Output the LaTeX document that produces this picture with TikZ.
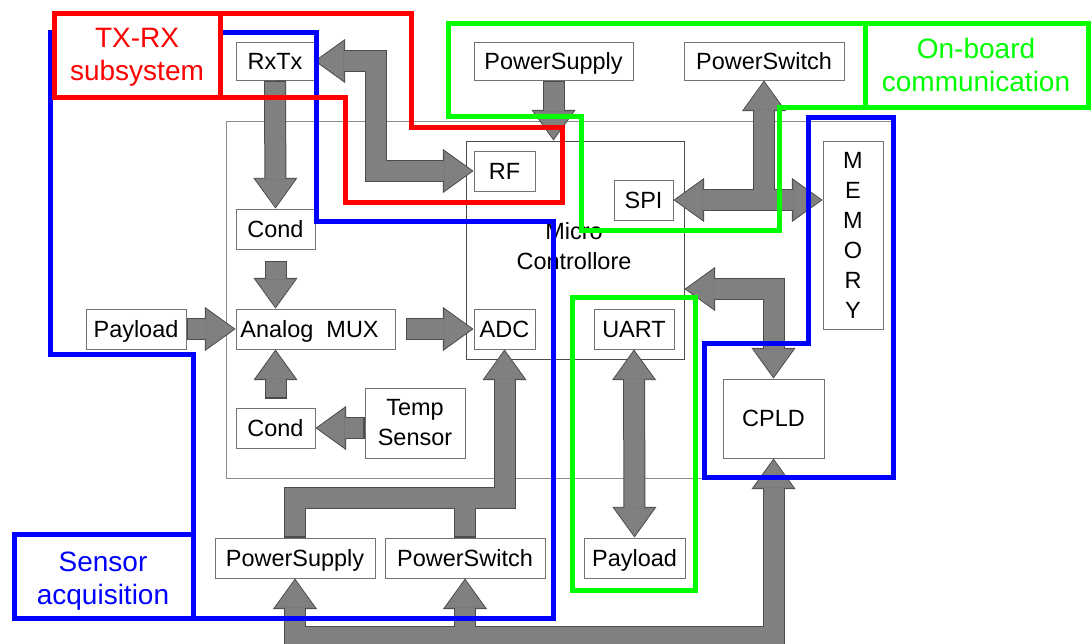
\documentclass[tikz,border=0pt]{standalone}
\usepackage{fontspec}
\setmainfont{Liberation Sans}
\usetikzlibrary{arrows.meta,fit,calc}
\tikzset{
  box/.style={draw=black!55, line width=0.75pt, fill=white, inner sep=0pt,
    font=\fontsize{17.6pt}{22.5pt}\selectfont, align=center, anchor=center},
  capbox/.style={box, text height=12.6pt, text depth=0pt},
  plain/.style={inner sep=0pt, font=\fontsize{17.6pt}{22.5pt}\selectfont, align=center},
  lbl/.style={inner sep=0pt, font=\fontsize{21pt}{25pt}\selectfont, align=center},
  zone/.style={line width=3.75pt, line join=miter},
  baout/.style={line width=16.5pt, draw=black!70, line join=miter,
    >={Triangle[length=23pt,width=33pt,line width=0.6pt,color=black!70,fill=black!70]}},
  bain/.style={line width=15pt, draw=gray, line join=miter, shorten >=1.2pt, shorten <=1.2pt,
    >={Triangle[length=21pt,width=30pt,line width=0.6pt,color=gray,fill=gray]}},
}
\newcommand\arrowsall{%
  \draw[ba,->] (rxtx.south) -- (cond1.north);
  \draw[ba,<->] (rxtx.east) -- ++(61,0) |- (rf.west);
  \draw[ba,->] ($(cond1.south)+(0,11)$) -- (cond1.south |- mux.north);
  \draw[ba,->] (payL.east) -- (mux.west);
  \draw[ba,->] ($(mux.east)+(10,0)$) -- (adc.west);
  \draw[ba,->] ($(cond2.north)+(0,-9)$) -- (cond2.north |- mux.south);
  \draw[ba,->] (temp.west |- cond2.east) -- (cond2.east);
  \draw[ba,->] (psB.north) |- (j1) -- (adc.south);
  \draw[ba] (pswB.north) -- (pswB.north |- j1);
  \draw[ba,<->] (psB.south) -- (psB.south |- bus) -| (cpld.south);
  \draw[ba,->] (pswB.south |- bus) -- (pswB.south);
  \draw[ba,->] (psT.south) -- (psT.south |- mc.north);
  \draw[ba,<->] (spi.east) -- (spi.east -| mem.west);
  \draw[ba,->] (pswT.south |- spi.east) -- (pswT.south);
  \draw[ba,<->] (mc.east |- m289) -| (cpld.north);
  \draw[ba,<->] (uart.south) -- (payR.north);
}
\begin{document}
\begin{tikzpicture}[x=0.75pt,y=-0.75pt]
\fill[white] (0,0) rectangle (1091,643);
\path[use as bounding box] (0,0) rectangle (1091,643);

% frames
\node[draw=black!45, line width=0.75pt, inner sep=0pt, fit={(226,121) (893,478)}] (frame) {};
\node[draw=black!70, line width=0.75pt, inner sep=0pt, fit={(466,141) (684,359)}] (mc) {};

% boxes
\node[capbox, minimum width=58.5pt, minimum height=28.5pt] (rxtx) at (275,61) {RxTx};
\node[capbox, minimum width=59.25pt, minimum height=30pt] (cond1) at (275.5,229) {Cond};
\node[capbox, minimum width=119.25pt, minimum height=30pt] (mux) at (315.5,329) {Analog~~MUX\hspace*{9pt}};
\node[capbox, minimum width=75pt, minimum height=30pt] (payL) at (136,329) {Payload};
\node[capbox, minimum width=45.75pt, minimum height=30pt] (adc) at (504.5,329) {ADC};
\node[capbox, minimum width=59.25pt, minimum height=30pt] (cond2) at (275.5,428) {Cond};
\node[box, minimum width=75pt, minimum height=52.5pt] (temp) at (415,423) {Temp\\Sensor};
\node[capbox, minimum width=120pt, minimum height=30pt] (psB) at (295,558) {PowerSupply};
\node[capbox, minimum width=120pt, minimum height=30pt] (pswB) at (465,558) {PowerSwitch};
\node[capbox, minimum width=45.75pt, minimum height=30pt] (rf) at (504.5,171) {RF};
\node[capbox, minimum width=44.25pt, minimum height=30pt] (spi) at (643.5,200) {SPI};
\node[capbox, minimum width=119.25pt, minimum height=28.5pt] (psT) at (553.5,61) {PowerSupply};
\node[capbox, minimum width=120pt, minimum height=28.5pt] (pswT) at (764,61) {PowerSwitch};
\node[box, minimum width=45pt, minimum height=141pt] (mem) at (853,235) {M\\E\\M\\O\\R\\Y};
\node[capbox, minimum width=60pt, minimum height=30pt] (uart) at (634,329) {UART};
\node[capbox, minimum width=75.75pt, minimum height=30pt] (payR) at (634.5,558) {Payload};
\node[capbox, minimum width=75.75pt, minimum height=59.25pt] (cpld) at (773.5,418.5) {CPLD};
\node[plain] (mclabel) at (574,246) {Micro\\Controllore};

% helper coordinates
\coordinate (y498) at (0,498);
\coordinate (j1) at (adc.south |- y498);
\coordinate (bus) at (0,637);
\coordinate (m289) at (0,289);

% block arrows: outline pass then fill pass
\begin{scope}[ba/.style=baout] \arrowsall \end{scope}
\begin{scope}[ba/.style=bain] \arrowsall \end{scope}

% blue zones
\draw[zone, blue] (50,32) -- (316,32) -- (316,221) -- (553,221) -- (553,618) -- (14,618)
  -- (14,534) -- (193,534) -- (193,354) -- (50,354) -- cycle;
\draw[zone, blue] (193,534) -- (193,618);
\draw[zone, blue] (808,117) -- (893,117) -- (893,477) -- (704,477) -- (704,343) -- (808,343) -- cycle;
\node[lbl, text=blue] (senslbl) at (103,581) {Sensor\\acquisition};

% red zone
\fill[white] (54,13) rectangle (220,97);
\draw[zone, red] (54,13) -- (411,13) -- (411,127) -- (562,127) -- (562,202) -- (345,202)
  -- (345,97) -- (54,97) -- cycle;
\draw[zone, red] (220,13) -- (220,97);
\node[lbl, text=red] (txrxlbl) at (137,57.5) {TX-RX\\subsystem};

% green zones
\draw[zone, green] (448,23) -- (1088,23) -- (1088,107) -- (779,107) -- (779,230) -- (581,230)
  -- (581,116) -- (448,116) -- cycle;
\draw[zone, green] (865,23) -- (865,107);
\draw[zone, green] (572,297) rectangle (695,590);
\node[lbl, text=green] (oblbl) at (976,65) {On-board\\communication};
\end{tikzpicture}
\end{document}
